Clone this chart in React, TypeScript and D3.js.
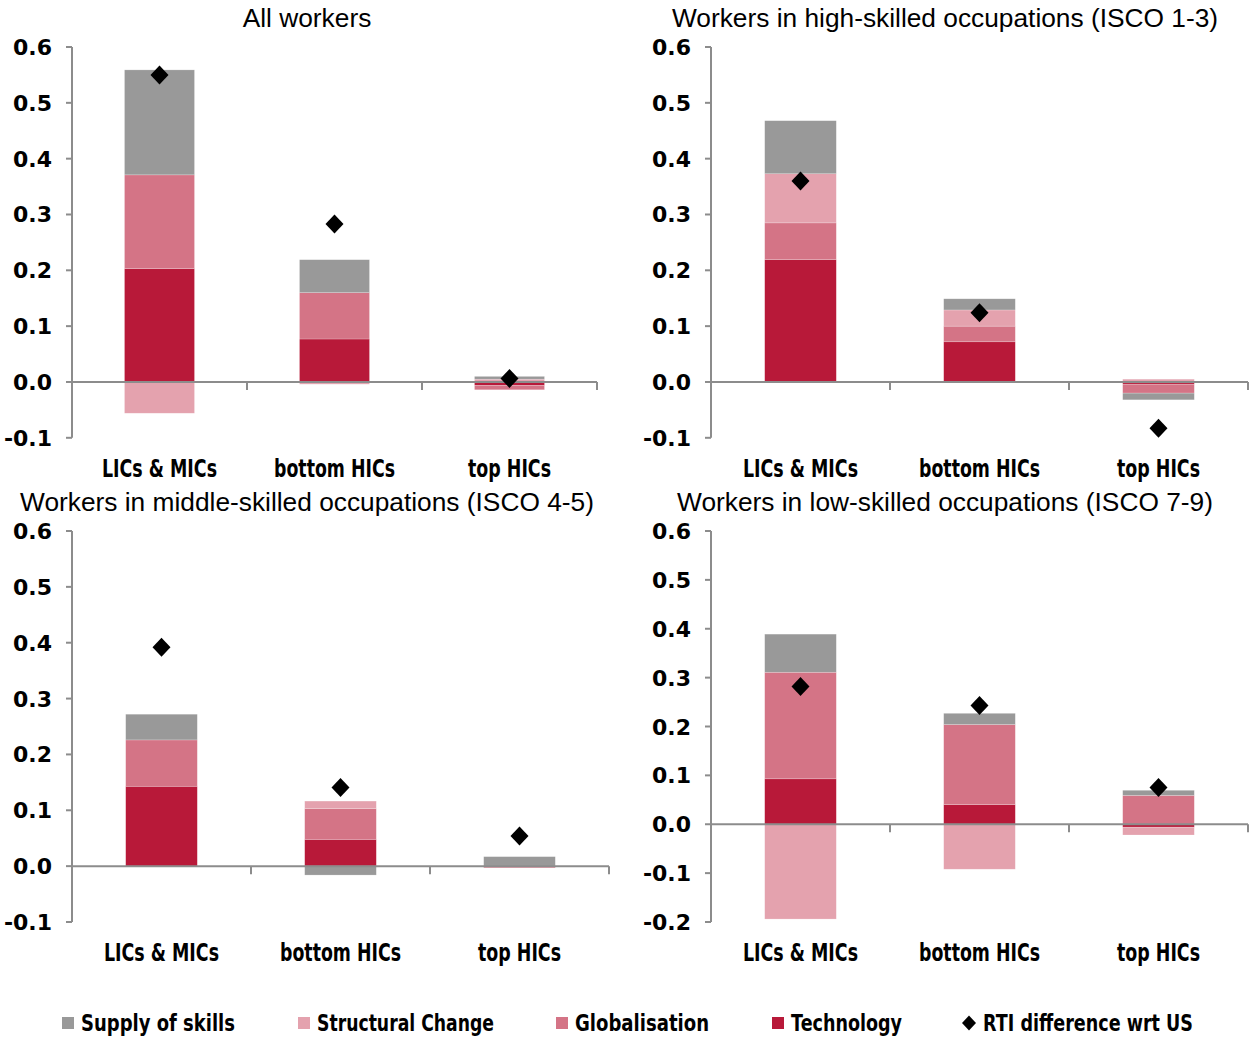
import React from "react";
import * as d3 from "d3";

const categories = ["LICs & MICs", "bottom HICs", "top HICs"];
const seriesKeys = ["Technology", "Globalisation", "Structural Change", "Supply of skills"];
const legendOrder = ["Supply of skills", "Structural Change", "Globalisation", "Technology"];
const markerLabel = "RTI difference wrt US";
const colors: Record<string, string> = {
  "Supply of skills": "#999999",
  "Structural Change": "#E4A2AE",
  Globalisation: "#D47486",
  Technology: "#B81939",
};

const panelTitles = [
  "All workers",
  "Workers in high-skilled occupations (ISCO 1-3)",
  "Workers in middle-skilled occupations (ISCO 4-5)",
  "Workers in low-skilled occupations (ISCO 7-9)",
];

// All workers
const allTech = [0.203, 0.077, -0.006];
const allGlob = [0.168, 0.083, -0.008];
const allStruct = [-0.056, -0.004, 0.005];
const allSupply = [0.188, 0.059, 0.005];
const allRti = [0.55, 0.283, 0.006];

// High-skilled
const highTech = [0.219, 0.072, -0.004];
const highGlob = [0.066, 0.028, -0.016];
const highStruct = [0.088, 0.029, 0.005];
const highSupply = [0.095, 0.02, -0.012];
const highRti = [0.36, 0.124, -0.083];

// Middle-skilled
const midTech = [0.143, 0.048, -0.001];
const midGlob = [0.083, 0.055, -0.002];
const midStruct = [0, 0.0135, 0];
const midSupply = [0.046, -0.016, 0.017];
const midRti = [0.392, 0.141, 0.054];

// Low-skilled
const lowTech = [0.093, 0.04, -0.006];
const lowGlob = [0.218, 0.164, 0.059];
const lowStruct = [-0.194, -0.092, -0.016];
const lowSupply = [0.078, 0.023, 0.0105];
const lowRti = [0.282, 0.243, 0.075];

const yTicksTop = [-0.1, 0, 0.1, 0.2, 0.3, 0.4, 0.5, 0.6];
const yTicksLow = [-0.2, -0.1, 0, 0.1, 0.2, 0.3, 0.4, 0.5, 0.6];

const panelData = [
  { tech: allTech, glob: allGlob, struct: allStruct, supply: allSupply, rti: allRti, ticks: yTicksTop },
  { tech: highTech, glob: highGlob, struct: highStruct, supply: highSupply, rti: highRti, ticks: yTicksTop },
  { tech: midTech, glob: midGlob, struct: midStruct, supply: midSupply, rti: midRti, ticks: yTicksTop },
  { tech: lowTech, glob: lowGlob, struct: lowStruct, supply: lowSupply, rti: lowRti, ticks: yTicksLow },
];

const layouts = [
  { x0: 72, x1: 597, yTop: 47, yBot: 437.8, titleX: 307, titleY: 27, catY: 477 },
  { x0: 711, x1: 1248, yTop: 47, yBot: 437.8, titleX: 945, titleY: 27, catY: 477 },
  { x0: 72, x1: 609, yTop: 531, yBot: 922, titleX: 307, titleY: 511, catY: 961 },
  { x0: 711, x1: 1248, yTop: 531, yBot: 922, titleX: 945, titleY: 511, catY: 961 },
];

// rendered widths (px) of the condensed bold labels
const labelWidths: Record<string, number> = {
  "LICs & MICs": 115,
  "bottom HICs": 121,
  "top HICs": 83,
  "Supply of skills": 154,
  "Structural Change": 177,
  Globalisation: 134,
  Technology: 111,
  "RTI difference wrt US": 210,
};

const boldFont = "'DejaVu Sans', 'Liberation Sans', sans-serif";
const axisColor = "#8c8c8c";

function diamondPath(r: number, ry: number) {
  const p = d3.path();
  p.moveTo(0, -ry);
  p.lineTo(r, 0);
  p.lineTo(0, ry);
  p.lineTo(-r, 0);
  p.closePath();
  return p.toString();
}

function FitText({
  x,
  y,
  anchor,
  size,
  label,
}: {
  x: number;
  y: number;
  anchor: string;
  size: number;
  label: string;
}) {
  const w = labelWidths[label];
  return (
    <text
      x={x}
      y={y}
      textAnchor={anchor}
      fontFamily={boldFont}
      fontWeight="bold"
      fontSize={size}
      fill="#000"
      textLength={w}
      lengthAdjust="spacingAndGlyphs"
    >
      {label}
    </text>
  );
}

function Panel({ idx }: { idx: number }) {
  const d = panelData[idx];
  const L = layouts[idx];
  const rows = categories.map((c, i) => ({
    cat: c,
    Technology: d.tech[i],
    Globalisation: d.glob[i],
    "Structural Change": d.struct[i],
    "Supply of skills": d.supply[i],
  }));
  const stack = d3.stack<any>().keys(seriesKeys).offset(d3.stackOffsetDiverging);
  const stacked = stack(rows);
  const x = d3.scaleBand().domain(categories).range([L.x0, L.x1]).paddingInner(0.6).paddingOuter(0.3);
  const y = d3.scaleLinear().domain([d.ticks[0], 0.6]).range([L.yBot, L.yTop]);
  const bw = x.bandwidth();
  const band = d3.scaleBand().domain(categories).range([L.x0, L.x1]);
  const dPath = diamondPath(9, 9.5);
  return (
    <g>
      <text
        x={L.titleX}
        y={L.titleY}
        textAnchor="middle"
        fontFamily="'Liberation Sans', Arial, sans-serif"
        fontSize={26.3}
        fill="#000"
      >
        {panelTitles[idx]}
      </text>
      {stacked.map((s) => (
        <g key={s.key} fill={colors[s.key]}>
          {s.map((p, i) => {
            const top = y(Math.max(p[0], p[1]));
            const bot = y(Math.min(p[0], p[1]));
            const h = bot - top;
            if (h <= 0.01) return null;
            return (
              <rect
                key={i}
                x={x(categories[i])}
                y={top}
                width={bw}
                height={h}
                stroke="#ffffff"
                strokeOpacity={0.35}
                strokeWidth={0.6}
              />
            );
          })}
        </g>
      ))}
      <line x1={L.x0} x2={L.x0} y1={y(0.6)} y2={y(d.ticks[0])} stroke={axisColor} strokeWidth={2} />
      {d.ticks.map((t) => (
        <g key={t}>
          <line x1={L.x0 - 6} x2={L.x0} y1={y(t)} y2={y(t)} stroke={axisColor} strokeWidth={2} />
          <text
            x={L.x0 - 20}
            y={y(t) + 8}
            textAnchor="end"
            fontFamily={boldFont}
            fontWeight="bold"
            fontSize={22}
            fill="#000"
          >
            {t.toFixed(1)}
          </text>
        </g>
      ))}
      <line x1={L.x0} x2={L.x1} y1={y(0)} y2={y(0)} stroke={axisColor} strokeWidth={2} />
      {categories.map((c) => (
        <line
          key={c}
          x1={(band(c) as number) + band.step()}
          x2={(band(c) as number) + band.step()}
          y1={y(0)}
          y2={y(0) + 8}
          stroke={axisColor}
          strokeWidth={2}
        />
      ))}
      {categories.map((c) => (
        <FitText key={c} x={(x(c) as number) + bw / 2} y={L.catY} anchor="middle" size={24} label={c} />
      ))}
      {d.rti.map((v, i) => (
        <path
          key={i}
          d={dPath}
          transform={`translate(${(x(categories[i]) as number) + bw / 2},${y(v)})`}
          fill="#000"
        />
      ))}
    </g>
  );
}

function Legend() {
  const items = [
    { label: legendOrder[0], x: 62 },
    { label: legendOrder[1], x: 298 },
    { label: legendOrder[2], x: 556 },
    { label: legendOrder[3], x: 772 },
  ];
  const ly = 1023;
  return (
    <g>
      {items.map((it) => (
        <g key={it.label}>
          <rect x={it.x} y={ly - 6} width={12} height={12} fill={colors[it.label]} />
          <FitText x={it.x + 19} y={ly + 8} anchor="start" size={23} label={it.label} />
        </g>
      ))}
      <path d={diamondPath(7, 7.5)} transform={`translate(969,${ly})`} fill="#000" />
      <FitText x={983} y={ly + 8} anchor="start" size={23} label={markerLabel} />
    </g>
  );
}

export default function App() {
  return (
    <svg width={1250} height={1039} style={{ position: "absolute", left: 0, top: 0, background: "#fff" }}>
      <rect width={1250} height={1039} fill="#fff" />
      {[0, 1, 2, 3].map((i) => (
        <Panel key={i} idx={i} />
      ))}
      <Legend />
    </svg>
  );
}
